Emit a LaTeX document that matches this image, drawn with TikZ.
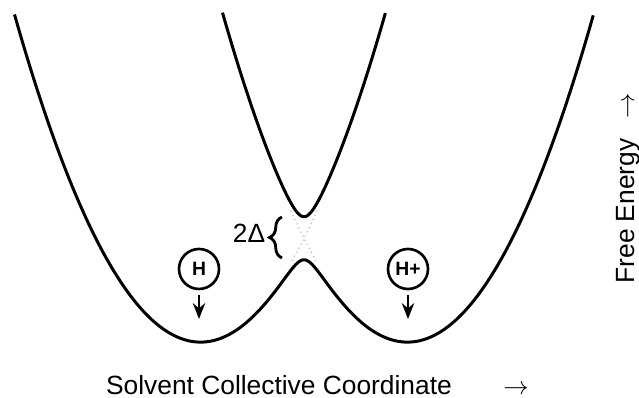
\documentclass[tikz,border=0pt]{standalone}
\usepackage{fontspec}
\setmainfont{Liberation Sans}
\usetikzlibrary{arrows.meta,decorations.pathreplacing}

\tikzset{
  surf/.style={line width=1.7pt},
  diab/.style={gray!70,dotted,line width=0.6pt},
  hcirc/.style={circle,draw,line width=1.5pt,minimum size=0.8cm,inner sep=0pt,
    font=\bfseries\fontsize{11}{11}\selectfont},
  harrow/.style={-{Stealth[length=9pt,width=7pt]},line width=1.3pt,shorten <=0.1cm},
  gapbrace/.style={decorate,decoration={brace,amplitude=0.25cm},line width=1.6pt},
  lbl/.style={font=\fontsize{15}{18}\selectfont,inner sep=0pt}
}

\begin{document}
\begin{tikzpicture}[x=0.02cm,y=0.02cm,
  declare function={vl(\u)=0.95*(\u-2)*(\u-2); vr(\u)=0.95*(\u-4.08)*(\u-4.08);
    em(\u)=(vl(\u)+vr(\u))/2-sqrt(((vl(\u)-vr(\u))/2)*((vl(\u)-vr(\u))/2)+0.215*0.215);
    ep(\u)=(vl(\u)+vr(\u))/2+sqrt(((vl(\u)-vr(\u))/2)*((vl(\u)-vr(\u))/2)+0.215*0.215);}]
  \useasboundingbox (0,0) rectangle (639,398);
  % adiabatic surfaces
  \draw[surf] plot[domain=0.145:5.935,samples=240,smooth] ({100*\x},{57+100*em(\x)});
  \draw[surf] plot[domain=2.225:3.855,samples=120,smooth] ({100*\x},{57+100*ep(\x)});
  % diabatic crossing
  \draw[diab] plot[domain=2.92:3.17,samples=30] ({100*\x},{57+100*vl(\x)});
  \draw[diab] plot[domain=2.91:3.16,samples=30] ({100*\x},{57+100*vr(\x)});
  % splitting
  \coordinate (gaplo) at (282,140);
  \coordinate (gaphi) at (282,181);
  \draw[gapbrace] (gaplo) -- (gaphi);
  \node[lbl] (gap) at (249,165) {2Δ};
  % proton states
  \node[hcirc] (hl) at (199,129) {H};
  \node[hcirc] (hr) at (408,129) {H+};
  \coordinate (hltip) at (199,79);
  \coordinate (hrtip) at (408,79);
  \draw[harrow] (hl) -- (hltip);
  \draw[harrow] (hr) -- (hrtip);
  % axes labels
  \node[lbl,anchor=base] (xlab) at (279,3) {Solvent Collective Coordinate};
  \node[lbl,anchor=base] (xarr) at (516,3) {$\rightarrow$};
  \node[lbl,rotate=90,anchor=base] (ylab) at (634,187) {Free Energy};
  \node[lbl,rotate=90,anchor=base] (yarr) at (634,292) {$\rightarrow$};
\end{tikzpicture}
\end{document}
